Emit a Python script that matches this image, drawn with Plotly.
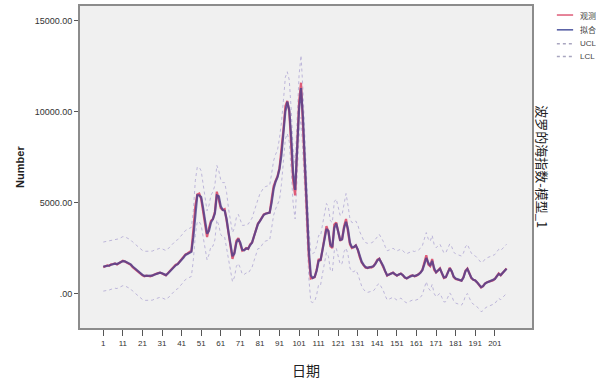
import plotly.graph_objects as go

# ---------------- data ----------------
days = list(range(1, 208))

observed = [
    1450, 1500, 1550, 1520, 1600, 1620, 1650, 1600, 1680, 1750,
    1800, 1760, 1700, 1650, 1580, 1450, 1350, 1250, 1150, 1080,
    1000, 950, 980, 960, 940, 990, 1050, 1080, 1120, 1150,
    1100, 1050, 1000, 1120, 1250, 1350, 1450, 1580, 1620, 1750,
    1900, 2000, 2150, 2200, 2300, 2350, 3500, 4800, 5450, 5500,
    5200, 4500, 3800, 3100, 3600, 4000, 4100, 4500, 5600, 5200,
    4700, 4600, 4650, 4000, 3200, 2500, 1900, 2300, 2900, 3050,
    2700, 2350, 2400, 2500, 2450, 2700, 2800, 3200, 3600, 3850,
    4000, 4200, 4350, 4400, 4420, 4450, 5200, 5900, 6200, 6450,
    6900, 7800, 9000, 10300, 10600, 10000, 8300, 6200, 5400, 8200,
    10500, 11600, 9300, 6800, 4500, 2000, 820, 850, 900, 1300,
    1900, 1800, 2500, 3100, 3700, 3400, 2600, 2500, 3800, 3900,
    3300, 2900, 3000, 3700, 4100, 3500, 2700, 2500, 2550, 2650,
    2400, 2000, 1700, 1550, 1420, 1400, 1450, 1430, 1500, 1650,
    1850, 1920, 1700, 1500, 1200, 980, 1050, 1100, 1150, 1050,
    980, 1050, 1100, 1000, 870, 820, 900, 980, 1000, 950,
    980, 1050, 1150, 1300, 1700, 2100, 1600, 1500, 1900, 1300,
    1150, 1300, 1380, 1100, 850, 900, 1150, 1420, 1200, 900,
    800, 780, 720, 700, 900, 1250, 1370, 1100, 850, 750,
    720, 600, 450, 330, 400, 550, 620, 650, 700, 720,
    800, 950, 1100, 1000, 1150, 1260, 1380,
]

fitted = [
    1480, 1490, 1530, 1540, 1580, 1610, 1640, 1620, 1660, 1720,
    1780, 1770, 1720, 1660, 1600, 1480, 1380, 1270, 1170, 1100,
    1020, 970, 970, 965, 950, 980, 1030, 1070, 1110, 1140,
    1110, 1060, 1010, 1100, 1220, 1330, 1430, 1550, 1610, 1720,
    1870, 1980, 2120, 2190, 2240, 2290, 3100, 4500, 5400, 5400,
    5300, 4700, 4000, 3300, 3450, 3900, 4100, 4400, 5400, 5350,
    4800, 4600, 4550, 4100, 3350, 2650, 2050, 2200, 2800, 3000,
    2800, 2400, 2380, 2480, 2460, 2650, 2800, 3150, 3550, 3820,
    3980, 4180, 4330, 4390, 4420, 4450, 5000, 5750, 6150, 6400,
    6850, 7600, 8800, 10000, 10550, 10100, 8600, 6600, 5700, 7800,
    10100, 11300, 9700, 7200, 4900, 2400, 1000, 850, 920, 1250,
    1800, 1850, 2400, 3000, 3550, 3450, 2700, 2550, 3600, 3850,
    3350, 2950, 2980, 3600, 3950, 3550, 2800, 2550, 2550, 2640,
    2420, 2050, 1750, 1570, 1450, 1410, 1440, 1440, 1500, 1630,
    1820, 1900, 1720, 1520, 1230, 1000, 1040, 1090, 1140, 1060,
    990, 1040, 1090, 1010, 890, 840, 890, 970, 990, 960,
    980, 1040, 1140, 1280, 1600, 1950, 1700, 1520, 1800, 1400,
    1170, 1280, 1360, 1120, 880, 900, 1130, 1380, 1220, 930,
    820, 780, 730, 710, 880, 1220, 1350, 1120, 870, 760,
    720, 610, 470, 350, 400, 540, 610, 650, 690, 720,
    790, 940, 1080, 1010, 1140, 1250, 1360,
]

ucl = [
    2830, 2850, 2880, 2900, 2930, 2960, 2990, 2970, 3010, 3070,
    3130, 3120, 3070, 3010, 2950, 2830, 2730, 2620, 2520, 2450,
    2370, 2320, 2320, 2310, 2300, 2330, 2380, 2420, 2460, 2490,
    2460, 2410, 2360, 2450, 2570, 2680, 2780, 2900, 2960, 3070,
    3220, 3330, 3470, 3540, 3590, 3640, 4550, 6200, 6950, 6950,
    6750, 6100, 5250, 4550, 4850, 5400, 5600, 5950, 7050, 6750,
    6250, 6100, 6100, 5550, 4650, 3950, 3350, 3600, 4200, 4350,
    4100, 3750, 3750, 3830, 3810, 4000, 4150, 4500, 4900, 5170,
    5480, 5680, 5830, 5890, 5920, 5950, 6600, 7300, 7650, 7900,
    8550, 9400, 10600, 11900, 12200, 11750, 10100, 7900, 7100, 9700,
    12000, 13100, 11200, 8500, 6200, 3550, 2250, 2200, 2270, 2630,
    3200, 3170, 3800, 4400, 4950, 4750, 4000, 3900, 5050, 5200,
    4650, 4300, 4350, 5000, 5500, 4850, 4100, 3900, 3900, 3990,
    3770, 3400, 3100, 2920, 2800, 2760, 2790, 2790, 2850, 2980,
    3170, 3250, 3070, 2870, 2580, 2350, 2390, 2440, 2490, 2410,
    2340, 2390, 2440, 2360, 2240, 2190, 2240, 2320, 2340, 2310,
    2330, 2390, 2490, 2630, 3000, 3350, 3000, 2870, 3200, 2700,
    2520, 2630, 2710, 2470, 2230, 2250, 2480, 2730, 2570, 2280,
    2170, 2130, 2080, 2060, 2230, 2570, 2700, 2470, 2220, 2110,
    2070, 1960, 1820, 1700, 1750, 1890, 1960, 2000, 2040, 2070,
    2140, 2290, 2430, 2360, 2490, 2600, 2710,
]

lcl = [
    130, 140, 180, 190, 230, 260, 290, 270, 310, 370,
    430, 420, 370, 310, 250, 130, 30, -80, -180, -250,
    -330, -380, -380, -385, -400, -370, -320, -280, -240, -210,
    -240, -290, -340, -250, -130, -20, 80, 200, 260, 370,
    520, 630, 770, 840, 890, 940, 1850, 3200, 3950, 3950,
    3750, 3100, 2550, 1850, 2150, 2600, 2600, 2950, 4050, 3750,
    3250, 3100, 3100, 2550, 1950, 1250, 650, 900, 1500, 1650,
    1400, 1050, 1050, 1130, 1110, 1300, 1450, 1800, 2200, 2470,
    2480, 2680, 2830, 2890, 2920, 2950, 3600, 4300, 4650, 4900,
    5150, 6000, 7200, 8500, 8800, 8350, 6700, 4900, 4100, 6300,
    8600, 9700, 7800, 5500, 3200, 850, -450, -500, -430, -70,
    500, 470, 1100, 1700, 2250, 2050, 1300, 1200, 2350, 2500,
    1950, 1600, 1650, 2300, 2500, 2150, 1400, 1200, 1200, 1290,
    1070, 700, 400, 220, 100, 60, 90, 90, 150, 280,
    470, 550, 370, 170, -120, -350, -310, -260, -210, -290,
    -360, -310, -260, -340, -460, -510, -460, -380, -360, -390,
    -370, -310, -210, -70, 300, 650, 300, 170, 500, 0,
    -180, -70, 10, -230, -470, -450, -220, 30, -130, -420,
    -530, -570, -620, -640, -470, -130, 0, -230, -480, -590,
    -630, -740, -880, -1000, -950, -810, -740, -700, -660, -630,
    -560, -410, -270, -340, -210, -100, 10,
]

x_tickvals = list(range(1, 202, 10))
y_tickvals = [0, 5000, 10000, 15000]
y_ticktext = [".00", "5000.00", "10000.00", "15000.00"]

legend_names = ["观测", "拟合", "UCL", "LCL"]

# ---------------- styles ----------------
C_OBS = "#DE5C78"
C_FIT = "rgba(72,62,140,0.78)"
C_LIM = "#BDB6DA"
FONT = "Liberation Sans, Arial, sans-serif"
CJK = "Noto Sans CJK SC, sans-serif"

fig = go.Figure()
fig.add_trace(go.Scatter(x=days, y=ucl, mode="lines", name=legend_names[2],
                         line=dict(color=C_LIM, width=1, dash="dot")))
fig.add_trace(go.Scatter(x=days, y=lcl, mode="lines", name=legend_names[3],
                         line=dict(color=C_LIM, width=1, dash="dot")))
fig.add_trace(go.Scatter(x=days, y=observed, mode="lines", name=legend_names[0],
                         line=dict(color=C_OBS, width=2.2)))
fig.add_trace(go.Scatter(x=days, y=fitted, mode="lines", name=legend_names[1],
                         line=dict(color=C_FIT, width=2.2)))

# manual legend (compact, as in the reference)
leg_colors = [C_OBS, "#4F57A0", "#A9A6C0", "#A9A6C0"]
leg_dash = ["solid", "solid", "dot", "dot"]
leg_y = [0.972, 0.926, 0.883, 0.843]
shapes = []
annotations = []
for name, col, dsh, yy in zip(legend_names, leg_colors, leg_dash, leg_y):
    shapes.append(dict(type="line", xref="paper", yref="paper",
                       x0=1.055, x1=1.091, y0=yy, y1=yy,
                       line=dict(color=col, width=1.5, dash=dsh)))
    annotations.append(dict(text=name, xref="paper", yref="paper",
                            x=1.102, y=yy, xanchor="left", yanchor="middle",
                            showarrow=False,
                            font=dict(size=8, color="#444",
                                      family=CJK if name in ("观测", "拟合") else FONT)))

annotations.append(dict(text="<b>Number</b>", xref="paper", yref="paper",
                        x=-0.133, y=0.5, textangle=-90, showarrow=False,
                        xanchor="center", yanchor="middle",
                        font=dict(size=11, color="#222", family=FONT)))
annotations.append(dict(text="日期", xref="paper", yref="paper",
                        x=0.5, y=-0.13, showarrow=False,
                        xanchor="center", yanchor="middle",
                        font=dict(size=14, color="#222", family=CJK)))
annotations.append(dict(text="波罗的海指数-模型_1", xref="paper", yref="paper",
                        x=1.024, y=0.5, textangle=90, showarrow=False,
                        xanchor="center", yanchor="middle",
                        font=dict(size=13, color="#222", family=CJK)))

fig.update_layout(
    width=596, height=382,
    margin=dict(l=80, r=64, t=4, b=54),
    paper_bgcolor="white",
    plot_bgcolor="#F0F0F0",
    showlegend=False,
    shapes=shapes,
    annotations=annotations,
    font=dict(family=FONT, size=9, color="#333"),
)
fig.update_xaxes(range=[-10.9, 220], tickvals=x_tickvals, ticks="outside",
                 ticklen=6, tickcolor="#555", showgrid=False, zeroline=False,
                 showline=True, linecolor="#8C8C8C", linewidth=2, mirror=True,
                 tickfont=dict(size=8, color="#333", family=FONT))
fig.update_yaxes(range=[-1900, 15820], tickvals=y_tickvals, ticktext=y_ticktext,
                 ticks="outside", ticklen=4, tickcolor="#555", showgrid=False,
                 zeroline=False, showline=True, linecolor="#8C8C8C", linewidth=2,
                 mirror=True, tickfont=dict(size=9, color="#333", family=FONT))

fig.write_html("out.html",
               config={"displayModeBar": False},
               post_script="document.body.style.margin='0';document.body.style.overflow='hidden';")
